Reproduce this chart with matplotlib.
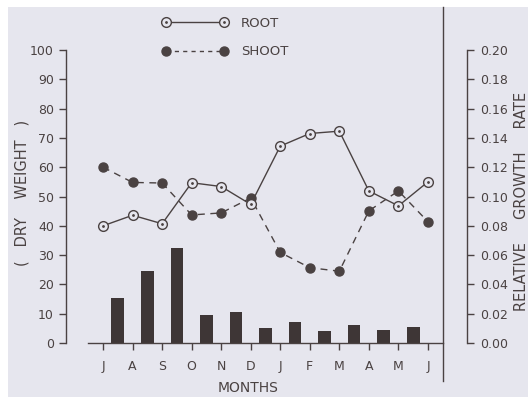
import numpy as np
import matplotlib.pyplot as plt
from matplotlib.lines import Line2D
from matplotlib.patches import Rectangle
from matplotlib.legend_handler import HandlerTuple

months = ["J", "A", "S", "O", "N", "D", "J", "F", "M", "A", "M", "J"]
root = [40, 43.6, 40.7, 54.7, 53.4, 47.3, 67.2, 71.5, 72.3, 51.9, 46.8, 55]
shoot = [60, 54.8, 54.6, 43.7, 44.4, 49.5, 30.9, 25.7, 24.5, 45.1, 51.9, 41.4]
rgr = [0.031, 0.049, 0.065, 0.019, 0.021, 0.010, 0.014, 0.008, 0.012, 0.009, 0.011]

ink = "#4a4242"
bg = "#e6e6ee"
W, H = 528, 397

fig = plt.figure(figsize=(5.28, 3.97), dpi=100, facecolor="white")
fig.add_artist(Rectangle((8 / W, 0), 1, (H - 7) / H, transform=fig.transFigure,
                         facecolor=bg, edgecolor="none", zorder=-10))

ax = fig.add_axes([88 / W, (H - 343) / H, (443 - 88) / W, (343 - 50) / H])
ax.set_facecolor("none")
ax2 = ax.twinx()
ax2.set_facecolor("none")

x = np.arange(len(months))
xb = x[:-1] + 0.5

# bars on the right axis (relative growth rate)
ax2.bar(xb, rgr, width=0.43, color="#3e3636", zorder=1)

ax.plot(x, shoot, color=ink, lw=1.0, ls=(0, (5, 4)), zorder=3)
ax.plot(x, shoot, "o", color=ink, ms=6.5, zorder=4)
ax.plot(x, root, color=ink, lw=1.0, zorder=3)
ax.plot(x, root, "o", mfc=bg, mec=ink, mew=1.0, ms=7, zorder=4)
ax.plot(x, root, ".", color=ink, ms=2, zorder=5)
ax.set_zorder(ax2.get_zorder() + 1)

ax.set_xlim(-0.51, 11.51)
ax.set_ylim(0, 100)
ax2.set_ylim(0, 0.2)

for s in ["top", "right"]:
    ax.spines[s].set_visible(False)
for s in ["top", "left", "bottom"]:
    ax2.spines[s].set_visible(False)
ax.spines["left"].set_position(("outward", 16))
ax2.spines["right"].set_position(("outward", 17))
for a, side in [(ax, "left"), (ax, "bottom"), (ax2, "right")]:
    a.spines[side].set_color(ink)
    a.spines[side].set_linewidth(1.0)

ax.set_yticks(np.arange(0, 101, 10))
ax.set_xticks(x)
ax.set_xticklabels(months)
ax2.set_yticks(np.arange(0, 0.201, 0.02))
ax2.set_yticklabels([f"{v:.2f}" for v in np.arange(0, 0.201, 0.02)])
ax.tick_params(colors=ink, labelsize=9, length=5, width=1.0)
ax.tick_params(axis="x", pad=7)
ax2.tick_params(colors=ink, labelsize=9, length=5, width=1.0, pad=5)

fig.text(248 / W, 1 - 388 / H, "MONTHS", color=ink, fontsize=10,
         ha="center", va="center")
fig.text(22 / W, 1 - 193 / H, "(   DRY    WEIGHT   )", color=ink, fontsize=10.5,
         rotation=90, ha="center", va="center")
fig.text(521 / W, 1 - 201 / H, "RELATIVE     GROWTH     RATE", color=ink,
         fontsize=10.5, rotation=90, ha="center", va="center")

# vertical rule at the right edge of the plot
fig.add_artist(Line2D([443 / W, 443 / W], [1 - 7 / H, 1 - 381 / H],
                      transform=fig.transFigure, color=ink, lw=1.0))

# legend proxies
root_h = Line2D([], [], color=ink, lw=1.0, marker="o", mfc=bg, mec=ink,
                mew=1.0, ms=7)
root_dot = Line2D([], [], ls="none", marker=".", color=ink, ms=2)
shoot_h = Line2D([], [], color=ink, lw=1.0, ls=(0, (3, 3)), marker="o", ms=6.5)
leg = fig.legend([(root_h, root_dot), shoot_h], ["ROOT", "SHOOT"], numpoints=2,
                 handler_map={tuple: HandlerTuple(ndivide=1, pad=0)},
                 loc="upper left", bbox_to_anchor=(155 / W, 1 - 10 / H),
                 frameon=False, fontsize=9.5, handlelength=5.0,
                 handletextpad=1.0, labelspacing=1.2, borderpad=0,
                 labelcolor=ink)

fig.savefig("out.png", dpi=100, facecolor=fig.get_facecolor())
